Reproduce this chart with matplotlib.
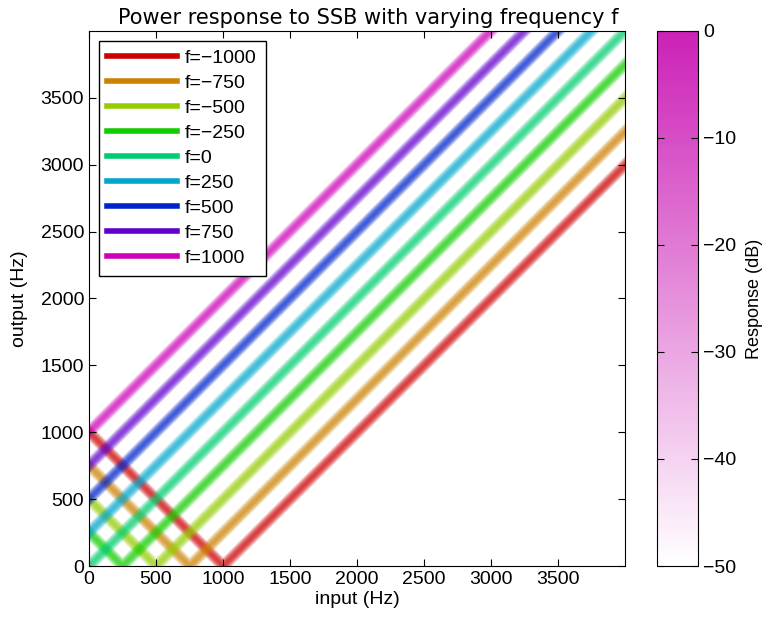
import colorsys

import matplotlib

matplotlib.use("Agg")
import matplotlib.pyplot as plt
import numpy as np
from matplotlib.colors import LinearSegmentedColormap, Normalize
from matplotlib.cm import ScalarMappable

plt.rcParams["font.family"] = ["Liberation Sans", "DejaVu Sans"]
plt.rcParams["font.size"] = 14

freqs = [-1000, -750, -500, -250, 0, 250, 500, 750, 1000]
hues = [0.0, 0.106, 0.2125, 0.319, 0.425, 0.531, 0.6375, 0.744, 0.85]
labels = ["f=\u22121000", "f=\u2212750", "f=\u2212500", "f=\u2212250", "f=0",
          "f=250", "f=500", "f=750", "f=1000"]
ticks = [0, 500, 1000, 1500, 2000, 2500, 3000, 3500]
cb_ticks = [0, -10, -20, -30, -40, -50]

fmax = 4000
n = 800
width = 68.0   # Hz, distance where response reaches -50 dB
peak_alpha = 0.75

grid = (np.arange(n) + 0.5) * fmax / n
xin, yout = np.meshgrid(grid, grid)

fig = plt.figure(figsize=(7.67, 6.26), dpi=100)
ax = fig.add_axes([0.116, 0.0958, 0.699, 0.855])
cax = fig.add_axes([0.8566, 0.0958, 0.0535, 0.855])

for f, h, lab in zip(freqs, hues, labels):
    rgb = colorsys.hsv_to_rgb(h, 1.0, 0.8)
    dist = np.abs(yout - np.abs(xin + f))
    db = np.clip(-50 * (dist / width) ** 2, -50, 0)
    layer = np.zeros((n, n, 4))
    layer[..., :3] = rgb
    layer[..., 3] = (db + 50) / 50 * peak_alpha
    ax.imshow(layer, extent=[0, fmax, 0, fmax], origin="lower",
              interpolation="bilinear", aspect="auto")
    ax.plot([], [], color=rgb, lw=4, label=lab)

ax.set_xlim(0, fmax)
ax.set_ylim(0, fmax)
ax.set_xticks(ticks)
ax.set_yticks(ticks)
ax.tick_params(direction="in", top=True, right=True, length=5)
ax.set_xlabel("input (Hz)", labelpad=2)
ax.set_ylabel("output (Hz)", labelpad=9)
ax.set_title("Power response to SSB with varying frequency f",
             family=["DejaVu Sans"], fontsize=15, pad=5, x=0.52)
ax.legend(loc="upper left", handlelength=3.6, fontsize=14, fancybox=False,
          edgecolor="black", framealpha=1, borderpad=0.45, labelspacing=0.38,
          handletextpad=0.4, borderaxespad=0.5)

cmap = LinearSegmentedColormap.from_list("resp", [(1, 1, 1), (0.8, 0.13, 0.72)])
sm = ScalarMappable(norm=Normalize(-50, 0), cmap=cmap)
cb = fig.colorbar(sm, cax=cax, ticks=cb_ticks)
cb.ax.tick_params(direction="in", left=True, right=True, length=5)
cb.outline.set_edgecolor("black")
cb.set_label("Response (dB)", labelpad=7, fontsize=13)
cb.ax.set_yticklabels(["0", "\u221210", "\u221220", "\u221230", "\u221240", "\u221250"])

fig.savefig("out.png", dpi=100)
